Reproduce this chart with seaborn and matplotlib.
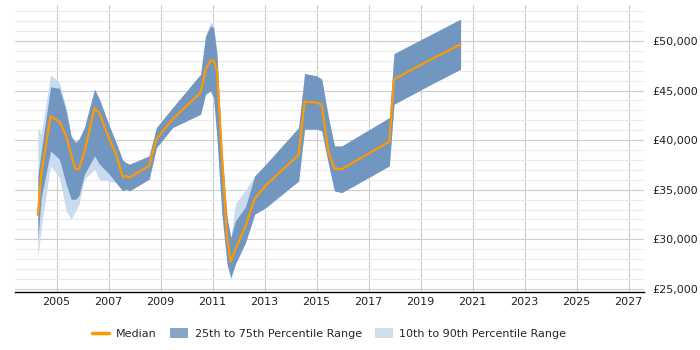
import numpy as np
import pandas as pd
import matplotlib.pyplot as plt
import seaborn as sns
from matplotlib.lines import Line2D
from matplotlib.patches import Patch
from matplotlib.ticker import MultipleLocator, FuncFormatter

# datos
fechas = [2004.28, 2004.41, 2004.77, 2005.11, 2005.37, 2005.56, 2005.73, 2005.86,
          2006.07, 2006.46, 2006.65, 2007.03, 2007.29, 2007.54, 2007.67, 2007.80,
          2008.56, 2008.84, 2009.46, 2010.54, 2010.73, 2010.92, 2011.04, 2011.17,
          2011.36, 2011.56, 2011.70, 2011.88, 2012.27, 2012.62, 2013.05, 2014.31,
          2014.54, 2015.01, 2015.20, 2015.46, 2015.69, 2015.97, 2017.80, 2017.98,
          2019.29, 2020.54]
mediana = [32460, 36560, 42400, 41860, 40420, 38500, 37070, 37100,
           38800, 43210, 42700, 40090, 38580, 36290, 36390, 36220,
           37400, 40090, 42110, 44790, 47100, 48000, 48080, 47000,
           38500, 30170, 27750, 29000, 31350, 34100, 35450, 38510,
           43880, 43780, 43550, 38740, 37130, 37070, 39850, 46140,
           47980, 49660]
p75 = [36400, 38900, 45360, 45230, 42940, 40400, 39750, 40090,
       41260, 45130, 44120, 41430, 39750, 38000, 37730, 37570,
       38410, 41260, 43270, 46640, 50500, 51510, 51340, 48660,
       38910, 32190, 30170, 31850, 33300, 36390, 37570, 41260,
       46710, 46470, 46140, 42270, 39410, 39410, 42270, 48720,
       50500, 52190]
p25 = [29900, 34200, 38910, 38070, 35550, 34040, 34040, 34380,
       36560, 38410, 37570, 36560, 35700, 34880, 35050, 34880,
       36060, 39240, 41260, 42610, 44630, 44960, 44290, 40250,
       32560, 27490, 26140, 27520, 29700, 32530, 33200, 35880,
       41100, 41100, 40930, 37570, 34880, 34710, 37400, 43620,
       45460, 47150]
p90 = [41260, 40590, 46570, 45800, 43270, 40400, 39920, 40090,
       41260, 45130, 44120, 41430, 39750, 38000, 37730, 37570,
       38410, 41260, 43270, 46640, 50500, 51840, 51680, 48660,
       38910, 32190, 30170, 33570, 35000, 36390, 37570, 41260,
       46710, 46470, 46140, 42270, 39410, 39410, 42270, 48720,
       50500, 52190]
p10 = [27990, 31180, 37400, 36220, 32860, 32030, 32860, 33500,
       36060, 37070, 36000, 35880, 35700, 34880, 35050, 34880,
       36060, 39240, 41260, 42610, 44630, 44960, 44000, 40250,
       32560, 27490, 26000, 27520, 29700, 32530, 33200, 35880,
       41100, 41100, 40930, 37570, 34880, 34710, 37400, 43620,
       45460, 47150]

df = pd.DataFrame({'fecha': fechas, 'mediana': mediana,
                   'p10': p10, 'p25': p25, 'p75': p75, 'p90': p90})

sns.set_style("white")

fig = plt.figure(figsize=(7, 3.5), dpi=100)
ax = fig.add_axes([0.0214, 0.166, 0.898, 0.82])

col_claro = '#c9dbee'
col_oscuro = '#7197c1'
col_mediana = '#ff9900'

ax.fill_between(df['fecha'], df['p10'], df['p90'], color=col_claro, lw=0, zorder=2)
ax.fill_between(df['fecha'], df['p25'], df['p75'], color=col_oscuro, lw=0, zorder=3)
sns.lineplot(data=df, x='fecha', y='mediana', color=col_mediana, lw=1.6, ax=ax, zorder=4)

ax.set_xlim(2003.4, 2027.58)
ax.set_ylim(24700, 53630)
ax.xaxis.set_major_locator(MultipleLocator(2, offset=1))
ax.xaxis.set_major_formatter(FuncFormatter(lambda v, p: f'{int(round(v))}'))
ax.yaxis.set_major_locator(MultipleLocator(5000))
ax.yaxis.set_minor_locator(MultipleLocator(1000))
ax.yaxis.set_major_formatter(FuncFormatter(lambda v, p: f'£{int(v):,}'))
ax.yaxis.tick_right()

ax.grid(which='major', axis='both', color='#cccccc', lw=0.8, zorder=0)
ax.grid(which='minor', axis='y', color='#ebebeb', lw=0.8, zorder=0)
ax.set_axisbelow(True)
ax.tick_params(axis='both', which='both', length=0, labelsize=8, colors='#222222')
ax.tick_params(axis='y', pad=6)
ax.tick_params(axis='x', pad=4)

for s in ['top', 'left', 'right']:
    ax.spines[s].set_visible(False)
ax.spines['bottom'].set_color('black')
ax.spines['bottom'].set_linewidth(1.0)
ax.set_xlabel('')
ax.set_ylabel('')

handles = [Line2D([0], [0], color=col_mediana, lw=2.5),
           Patch(facecolor='#86a4c4', edgecolor='none'),
           Patch(facecolor='#d0deec', edgecolor='none')]
labels = ['Median', '25th to 75th Percentile Range', '10th to 90th Percentile Range']
fig.legend(handles, labels, loc='center', bbox_to_anchor=(0.47, 0.047), ncol=3,
           frameon=False, fontsize=8, handlelength=1.6, handleheight=1.0,
           columnspacing=1.2, handletextpad=0.6)

fig.savefig('out.png', dpi=100)
